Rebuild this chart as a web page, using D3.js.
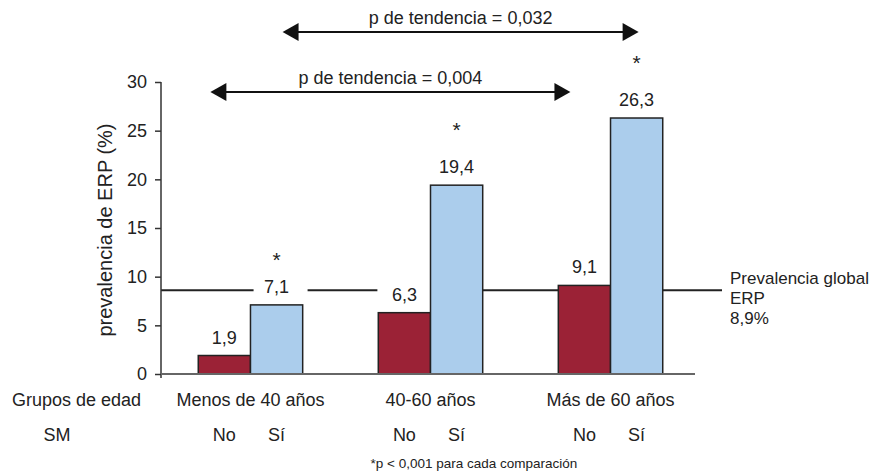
<!DOCTYPE html>
<html>
<head>
<meta charset="utf-8">
<script src="https://cdn.jsdelivr.net/npm/d3@7"></script>
<style>
  body { margin: 0; background: #fff; }
  text { font-family: "Liberation Sans", Arial, sans-serif; fill: #222; }
</style>
</head>
<body>
<div id="chart-area"></div>
<script>
// data
const groups = ["Menos de 40 años", "40-60 años", "Más de 60 años"]
const smLevels = ["No", "Sí"]
const valuesNo = [1.9, 6.3, 9.1]
const valuesSi = [7.1, 19.4, 26.3]
const yTicks = [0, 5, 10, 15, 20, 25, 30]
const globalLine = 8.6          // where the line sits in the picture
const globalLabel = ["Prevalencia global", "ERP", "8,9%"]
const asteriskAt = [12.2, 25.6, 32.5]   // asterisk heights, in % units
const trendLabels = ["p de tendencia = 0,032", "p de tendencia = 0,004"]

const WIDTH = 882
const HEIGHT = 474
const RED = "#9b2236"
const BLUE = "#abcdec"
const fmt = v => d3.format(".1f")(v).replace(".", ",")

const svg = d3.select("#chart-area")
    .append("svg")
    .attr("width", WIDTH)
    .attr("height", HEIGHT)

const y = d3.scaleLinear()
    .domain([0, 30])
    .range([374, 82])

const x = d3.scaleBand()
    .domain(groups)
    .range([161, 700])
    .paddingInner(0.42)
    .paddingOuter(0.207)

const xs = d3.scaleBand()
    .domain(smLevels)
    .range([0, x.bandwidth()])

const barX = (g, s) => x(g) + xs(s)
const barMid = (g, s) => barX(g, s) + xs.bandwidth() / 2

const rows = []
groups.forEach((g, i) => {
  rows.push({ group: g, sm: "No", value: valuesNo[i] })
  rows.push({ group: g, sm: "Sí", value: valuesSi[i] })
})

// global prevalence line (drawn under bars)
svg.append("line")
    .attr("x1", 161).attr("x2", 722)
    .attr("y1", y(globalLine)).attr("y2", y(globalLine))
    .attr("stroke", "#222")
    .attr("stroke-width", 2)

globalLabel.forEach((t, i) => {
  svg.append("text")
    .attr("x", 730)
    .attr("y", 284 + i * 20)
    .attr("font-size", "17px")
    .text(t)
})

// white boxes behind labels that sit on the line
rows.forEach(d => {
  const ly = y(d.value) - 18
  if (Math.abs(ly - y(globalLine)) < 12) {
    const shift = d.sm === "Sí" ? 4 : 0
    svg.append("rect")
      .attr("x", barMid(d.group, d.sm) - 27 + shift)
      .attr("y", ly - 10)
      .attr("width", 54)
      .attr("height", 20)
      .attr("fill", "#fff")
  }
})

// bars
svg.selectAll("rect.bar")
    .data(rows)
    .enter().append("rect")
    .attr("class", "bar")
    .attr("x", d => barX(d.group, d.sm))
    .attr("y", d => y(d.value))
    .attr("width", xs.bandwidth())
    .attr("height", d => y(0) - y(d.value))
    .attr("fill", d => d.sm === "No" ? RED : BLUE)
    .attr("stroke", "#222")
    .attr("stroke-width", 1.5)

svg.selectAll("text.val")
    .data(rows)
    .enter().append("text")
    .attr("class", "val")
    .attr("x", d => barMid(d.group, d.sm))
    .attr("y", d => y(d.value) - 12)
    .attr("text-anchor", "middle")
    .attr("font-size", "18px")
    .text(d => fmt(d.value))

// asterisks over the Sí bars
groups.forEach((g, i) => {
  svg.append("text")
    .attr("x", barMid(g, "Sí"))
    .attr("y", y(asteriskAt[i]) + 12)
    .attr("text-anchor", "middle")
    .attr("font-size", "21px")
    .text("*")
})

// axes
const yAxisCall = d3.axisLeft(y)
    .tickValues(yTicks)
    .tickSize(6)
    .tickPadding(8)
    .tickFormat(d3.format("d"))

const yAxis = svg.append("g")
    .attr("class", "y axis")
    .attr("transform", "translate(161, 0)")
    .call(yAxisCall)
yAxis.select(".domain").remove()
yAxis.selectAll("line").attr("stroke", "#333").attr("stroke-width", 1.5)
yAxis.selectAll("text")
    .attr("font-size", "18px")
    .attr("font-family", "Liberation Sans, Arial, sans-serif")
    .attr("fill", "#222")

svg.append("line")
    .attr("x1", 161).attr("x2", 161)
    .attr("y1", y(30)).attr("y2", y(0) + 4)
    .attr("stroke", "#333").attr("stroke-width", 1.5)

svg.append("line")
    .attr("x1", 161).attr("x2", 695)
    .attr("y1", y(0)).attr("y2", y(0))
    .attr("stroke", "#666").attr("stroke-width", 2)

// Y label
svg.append("text")
    .attr("transform", `translate(112, ${(y(0) + y(30)) / 2 + 2}) rotate(-90)`)
    .attr("text-anchor", "middle")
    .attr("font-size", "20px")
    .text("prevalencia de ERP (%)")

// bottom labels
svg.append("text")
    .attr("x", 12).attr("y", 406)
    .attr("font-size", "18px")
    .text("Grupos de edad")

svg.selectAll("text.grp")
    .data(groups)
    .enter().append("text")
    .attr("class", "grp")
    .attr("x", d => x(d) + x.bandwidth() / 2)
    .attr("y", 406)
    .attr("text-anchor", "middle")
    .attr("font-size", "18px")
    .text(d => d)

svg.append("text")
    .attr("x", 57).attr("y", 441)
    .attr("text-anchor", "middle")
    .attr("font-size", "18px")
    .text("SM")

svg.selectAll("text.sm")
    .data(rows)
    .enter().append("text")
    .attr("class", "sm")
    .attr("x", d => barMid(d.group, d.sm))
    .attr("y", 441)
    .attr("text-anchor", "middle")
    .attr("font-size", "18px")
    .text(d => d.sm)

svg.append("text")
    .attr("x", 474).attr("y", 468)
    .attr("text-anchor", "middle")
    .attr("font-size", "13.5px")
    .text("*p < 0,001 para cada comparación")

// trend arrows
const arrows = [
  { x1: barMid(groups[0], "Sí") + 6, x2: barMid(groups[2], "Sí") + 2, y: 32, label: trendLabels[0] },
  { x1: barMid(groups[0], "No") - 14, x2: barMid(groups[2], "No") - 14, y: 92, label: trendLabels[1] }
]

arrows.forEach(a => {
  svg.append("line")
    .attr("x1", a.x1 + 10).attr("x2", a.x2 - 10)
    .attr("y1", a.y).attr("y2", a.y)
    .attr("stroke", "#111").attr("stroke-width", 2)
  svg.append("path")
    .attr("d", `M${a.x1},${a.y} L${a.x1 + 16},${a.y - 9} L${a.x1 + 16},${a.y + 9} Z`)
    .attr("fill", "#111")
  svg.append("path")
    .attr("d", `M${a.x2},${a.y} L${a.x2 - 16},${a.y - 9} L${a.x2 - 16},${a.y + 9} Z`)
    .attr("fill", "#111")
  svg.append("text")
    .attr("x", (a.x1 + a.x2) / 2)
    .attr("y", a.y - 8)
    .attr("text-anchor", "middle")
    .attr("font-size", "18px")
    .text(a.label)
})
</script>
</body>
</html>
